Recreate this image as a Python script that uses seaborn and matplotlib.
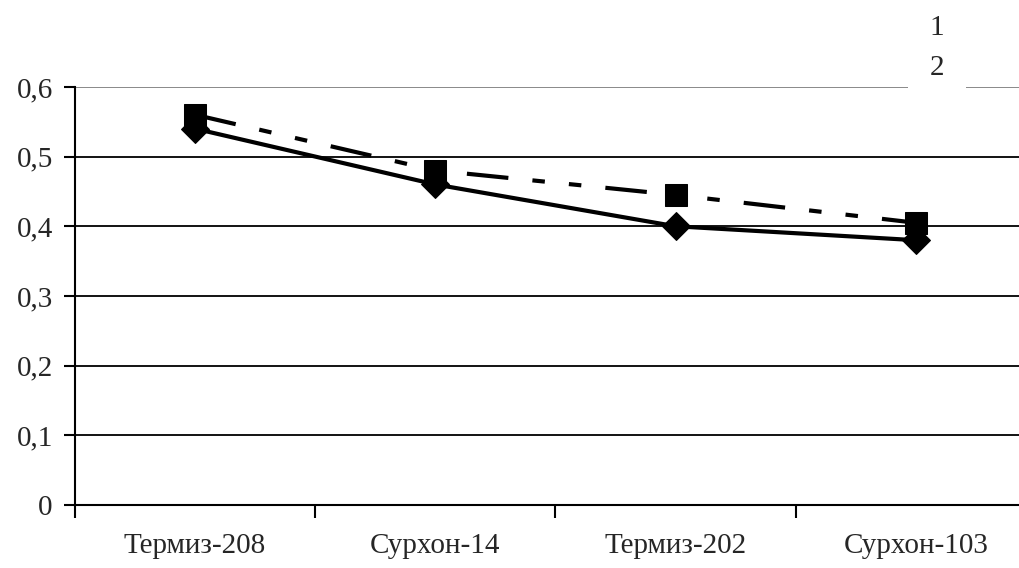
import matplotlib
matplotlib.use("Agg")
import matplotlib.pyplot as plt
import seaborn as sns
import pandas as pd

# данные
sorts = ["Термиз-208", "Сурхон-14", "Термиз-202", "Сурхон-103"]
series_1 = [0.54, 0.46, 0.40, 0.38]
series_2 = [0.56, 0.48, 0.445, 0.405]
y_ticks = [0, 0.1, 0.2, 0.3, 0.4, 0.5, 0.6]
y_labels = ["0", "0,1", "0,2", "0,3", "0,4", "0,5", "0,6"]

sns.set_style("white")
plt.rcParams['font.family'] = ['Liberation Serif', 'DejaVu Serif']

df = pd.DataFrame({"sort": sorts, "s1": series_1, "s2": series_2})

fig = plt.figure(figsize=(10.19, 5.68), dpi=100)
ax = fig.add_axes([0.0736, 0.111, 0.943, 0.736])

# сетка
for v in y_ticks[1:-1]:
    ax.axhline(v, color="black", lw=1.3, zorder=1)
ax.axhline(0.6, color="#808080", lw=1.3, zorder=1)

sns.lineplot(data=df, x="sort", y="s1", ax=ax, color="black", lw=3,
             marker="D", markersize=14, markeredgecolor="black", zorder=3)
sns.lineplot(data=df, x="sort", y="s2", ax=ax, color="black", lw=3,
             linestyle=(0, (10, 5.8, 3, 5.8, 3, 5.8)),
             marker="s", markersize=16, markeredgecolor="black", zorder=4)

ax.set_xlim(-0.5, 3.5)
ax.set_ylim(0, 0.6)
ax.set_yticks(y_ticks)
ax.set_yticklabels(y_labels)
ax.set_xticks([-0.5, 0.5, 1.5, 2.5])
ax.set_xticklabels([])
ax.set_xticks(range(len(sorts)), minor=True)
ax.set_xticklabels(sorts, minor=True)
ax.tick_params(axis="x", which="minor", bottom=False, length=0, pad=20, labelsize=21)
ax.tick_params(axis="x", which="major", bottom=True, direction="out", length=9, width=1.5, color="black")
ax.tick_params(axis="y", left=True, direction="out", length=8, width=1.5, color="black", labelsize=21, pad=8)
ax.set_xlabel("")
ax.set_ylabel("")

for s in ["top", "right"]:
    ax.spines[s].set_visible(False)
for s in ["left", "bottom"]:
    ax.spines[s].set_color("black")
    ax.spines[s].set_linewidth(1.5)
ax.spines["bottom"].set_zorder(5)

# легенда
fig.text(937 / 1019, 1 - 68 / 568, "2", fontsize=21, ha="center", va="center", zorder=5,
         bbox=dict(facecolor="white", edgecolor="none", boxstyle="square,pad=0.75"))
fig.text(937 / 1019, 1 - 28 / 568, "1", fontsize=21, ha="center", va="center", zorder=10)

fig.savefig("out.png", dpi=100)
plt.close(fig)
